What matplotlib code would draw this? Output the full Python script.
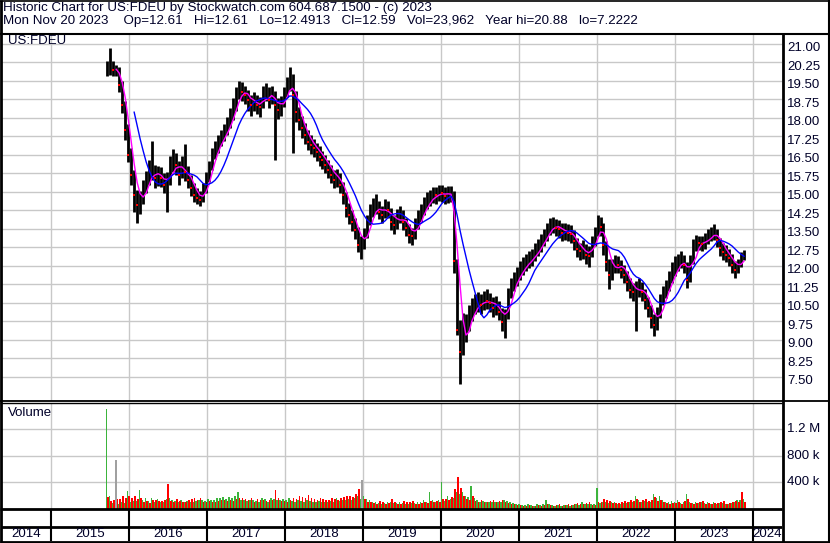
import matplotlib
matplotlib.use('Agg')
import matplotlib.pyplot as plt
import matplotlib.dates as mdates
from matplotlib.lines import Line2D
import pandas as pd
import datetime as dt

plt.rcParams['font.family'] = ['Liberation Sans', 'DejaVu Sans']

# ---------------- data (bi-weekly samples) ----------------
dates = pd.date_range('2015-09-21', periods=214, freq='14D')

close = [19.95, 20.05, 19.95, 19.95, 19.34, 18.53, 17.51, 16.50, 15.69, 14.88,
         14.47, 14.68, 15.16, 15.49, 15.81, 15.89, 15.57, 15.69, 15.57, 15.28,
         15.49, 15.97, 16.30, 16.10, 15.69, 15.97, 15.81, 15.49, 15.16, 14.88,
         14.76, 14.68, 15.00, 15.49, 15.97, 16.50, 16.78, 16.99, 17.19, 17.43,
         17.72, 18.00, 18.41, 18.85, 19.22, 19.05, 18.93, 18.73, 18.53, 18.73,
         18.53, 18.45, 18.93, 19.05, 18.73, 18.93, 18.53, 18.32, 18.53, 18.93,
         19.34, 19.62, 18.93, 18.24, 17.92, 17.60, 17.31, 17.03, 16.91, 16.78,
         16.62, 16.42, 16.30, 16.10, 15.89, 15.69, 15.49, 15.57, 15.28, 14.88,
         14.35, 14.07, 13.78, 13.46, 12.85, 12.85, 13.26, 13.78, 14.19, 14.35,
         14.47, 14.19, 14.07, 14.35, 14.27, 13.78, 13.66, 13.95, 14.07, 13.78,
         13.54, 13.26, 13.22, 13.66, 13.95, 14.19, 14.47, 14.68, 14.76, 14.88,
         14.86, 15.00, 14.96, 14.84, 14.90, 14.95, 12.20, 9.40, 8.50, 9.30,
         9.60, 9.89, 10.30, 10.42, 10.54, 10.42, 10.62, 10.60, 10.50, 10.30,
         10.42, 10.14, 9.73, 9.89, 10.83, 11.15, 11.40, 11.60, 11.85, 12.00,
         12.15, 12.25, 12.35, 12.60, 12.75, 12.95, 13.20, 13.40, 13.62, 13.70,
         13.55, 13.50, 13.35, 13.40, 13.35, 13.30, 13.00, 12.70, 12.60, 12.70,
         12.45, 12.40, 12.90, 13.30, 13.70, 13.60, 12.85, 12.16, 11.64, 11.92,
         12.12, 12.04, 11.84, 11.64, 11.35, 11.03, 10.95, 11.03, 11.11, 10.95,
         10.62, 10.30, 9.89, 9.61, 10.01, 10.54, 10.83, 11.11, 11.43, 11.76,
         12.00, 12.16, 12.24, 12.04, 11.43, 12.16, 12.85, 12.97, 12.93, 12.89,
         13.05, 13.22, 13.30, 13.38, 13.05, 12.73, 12.57, 12.45, 12.33, 12.04,
         11.84, 12.04, 12.33, 12.59]

high = [20.30, 20.85, 20.30, 20.15, 20.05, 19.50, 18.70, 17.75, 16.80, 15.90,
        15.10, 15.05, 15.50, 15.85, 16.30, 17.05, 16.10, 16.05, 16.00, 15.75,
        15.80, 16.45, 16.75, 16.60, 16.25, 16.45, 16.95, 16.05, 15.70, 15.35,
        15.15, 15.05, 15.35, 15.80, 16.25, 16.80, 17.05, 17.30, 17.50, 17.75,
        18.05, 18.40, 18.80, 19.25, 19.50, 19.45, 19.30, 19.15, 18.95, 19.05,
        18.95, 18.85, 19.30, 19.40, 19.25, 19.30, 19.10, 18.80, 18.90, 19.25,
        19.65, 20.05, 19.80, 19.10, 18.45, 18.10, 17.80, 17.50, 17.30, 17.15,
        17.00, 16.85, 16.65, 16.50, 16.30, 16.10, 15.90, 15.95, 15.75, 15.40,
        15.00, 14.55, 14.25, 13.95, 13.60, 13.20, 13.55, 14.05, 14.50, 14.75,
        14.90, 14.65, 14.45, 14.70, 14.65, 14.35, 14.05, 14.30, 14.45, 14.25,
        13.95, 13.70, 13.55, 13.95, 14.25, 14.50, 14.80, 15.00, 15.10, 15.20,
        15.20, 15.30, 15.30, 15.20, 15.25, 15.25, 15.05, 12.30, 9.80, 10.10,
        10.05, 10.40, 10.70, 10.85, 10.95, 10.85, 11.00, 11.05, 10.90, 10.75,
        10.80, 10.60, 10.30, 10.25, 11.10, 11.50, 11.75, 11.95, 12.20, 12.35,
        12.50, 12.60, 12.70, 12.95, 13.10, 13.30, 13.50, 13.75, 13.95, 14.00,
        13.90, 13.85, 13.75, 13.75, 13.70, 13.65, 13.45, 13.15, 12.95, 13.05,
        12.90, 12.80, 13.20, 13.60, 14.05, 14.00, 13.75, 13.00, 12.30, 12.30,
        12.45, 12.40, 12.25, 12.05, 11.80, 11.50, 11.30, 11.40, 11.50, 11.35,
        11.05, 10.75, 10.40, 10.05, 10.35, 10.85, 11.20, 11.45, 11.80, 12.15,
        12.40, 12.50, 12.60, 12.45, 12.15, 12.45, 13.10, 13.25, 13.20, 13.20,
        13.35, 13.50, 13.60, 13.70, 13.50, 13.15, 12.95, 12.85, 12.70, 12.50,
        12.20, 12.30, 12.55, 12.65]

low = [19.70, 19.75, 19.70, 19.70, 19.05, 18.20, 17.10, 16.20, 15.30, 14.20,
       13.75, 14.10, 14.50, 14.95, 15.30, 15.50, 15.15, 15.25, 15.20, 14.95,
       14.20, 15.30, 15.80, 15.70, 15.30, 15.55, 15.45, 15.15, 14.85, 14.60,
       14.50, 14.45, 14.60, 14.95, 15.40, 15.90, 16.35, 16.60, 16.85, 17.05,
       17.30, 17.60, 17.90, 18.30, 18.75, 18.70, 18.55, 18.30, 18.10, 18.30,
       18.15, 18.05, 18.40, 18.70, 18.40, 18.55, 16.30, 17.95, 18.10, 18.45,
       18.85, 19.10, 16.60, 17.85, 17.50, 17.20, 16.95, 16.70, 16.55, 16.40,
       16.25, 16.05, 15.95, 15.75, 15.55, 15.35, 15.15, 15.20, 14.95, 14.50,
       14.00, 13.70, 13.40, 13.10, 12.55, 12.30, 12.70, 13.15, 13.65, 14.00,
       14.10, 13.90, 13.75, 13.95, 13.95, 13.45, 13.30, 13.50, 13.75, 13.45,
       13.20, 12.95, 12.85, 13.10, 13.50, 13.80, 14.05, 14.30, 14.45, 14.55,
       14.50, 14.65, 14.60, 14.50, 14.55, 14.60, 11.70, 9.20, 7.22, 8.40,
       8.90, 9.35, 9.75, 10.05, 10.15, 10.05, 10.20, 10.25, 10.15, 9.95,
       10.00, 9.80, 9.35, 9.10, 9.85, 10.70, 11.00, 11.20, 11.45, 11.65,
       11.80, 11.90, 12.00, 12.20, 12.40, 12.55, 12.80, 13.00, 13.25, 13.35,
       13.20, 13.15, 13.00, 13.05, 13.00, 12.95, 12.65, 12.35, 12.25, 12.30,
       12.10, 11.95, 12.35, 12.80, 13.20, 13.20, 12.45, 11.80, 11.05, 11.45,
       11.70, 11.70, 11.50, 11.30, 11.00, 10.70, 10.60, 9.35, 10.75, 10.60,
       10.25, 9.95, 9.50, 9.15, 9.40, 9.90, 10.40, 10.70, 11.00, 11.30,
       11.60, 11.80, 11.90, 11.70, 11.10, 11.35, 12.10, 12.60, 12.65, 12.60,
       12.70, 12.90, 13.00, 13.05, 12.75, 12.40, 12.25, 12.15, 12.00, 11.70,
       11.50, 11.70, 11.95, 12.25]

# largest daily volume (thousands) on up days / down days in each sample window
vol_up_k = [1500, 200, 90, 120, 80, 110, 90, 270, 100, 120,
            120, 280, 140, 170, 120, 160, 110, 150, 100, 110,
            150, 160, 130, 120, 100, 140, 110, 120, 100, 110,
            120, 130, 130, 120, 150, 140, 130, 160, 170, 180,
            150, 180, 160, 200, 260, 140, 130, 120, 130, 130,
            120, 110, 160, 150, 110, 170, 150, 130, 140, 150,
            130, 160, 120, 110, 130, 120, 110, 130, 120, 110,
            110, 120, 110, 100, 110, 120, 110, 170, 120, 130,
            140, 150, 130, 160, 200, 150, 200, 150, 130, 110,
            100, 90, 80, 90, 100, 110, 90, 90, 100, 90,
            80, 80, 90, 90, 100, 110, 130, 110, 260, 140,
            110, 130, 400, 120, 200, 150, 160, 250, 220, 250,
            200, 180, 350, 160, 140, 110, 120, 100, 110, 100,
            110, 100, 110, 130, 120, 100, 90, 80, 70, 60,
            60, 70, 60, 50, 70, 60, 80, 140, 70, 60,
            50, 60, 50, 60, 55, 50, 60, 70, 60, 110,
            70, 80, 80, 70, 320, 90, 110, 100, 90, 100,
            110, 80, 80, 90, 90, 100, 100, 200, 140, 110,
            120, 100, 110, 230, 160, 200, 130, 110, 100, 120,
            110, 130, 90, 100, 230, 100, 90, 110, 90, 100,
            90, 100, 80, 110, 80, 90, 90, 70, 80, 90,
            100, 140, 130, 150]
vol_dn_k = [180, 120, 130, 150, 150, 200, 170, 190, 160, 190,
            150, 160, 100, 120, 90, 130, 130, 120, 120, 140,
            370, 120, 110, 150, 120, 110, 100, 130, 150, 170,
            140, 160, 110, 100, 120, 110, 100, 120, 130, 140,
            120, 130, 120, 150, 160, 170, 150, 140, 160, 110,
            150, 140, 130, 120, 130, 140, 290, 160, 120, 120,
            110, 130, 170, 150, 200, 180, 160, 215, 170, 150,
            140, 160, 150, 130, 140, 160, 150, 140, 160, 180,
            190, 200, 180, 220, 300, 200, 150, 110, 100, 90,
            80, 120, 110, 70, 90, 150, 110, 70, 80, 120,
            110, 100, 120, 70, 80, 90, 100, 90, 120, 100,
            120, 100, 150, 150, 140, 180, 300, 480, 320, 200,
            150, 130, 200, 120, 110, 130, 100, 110, 120, 130,
            100, 120, 140, 110, 90, 80, 70, 60, 55, 50,
            50, 55, 50, 45, 55, 50, 60, 70, 60, 50,
            60, 70, 45, 55, 70, 60, 80, 90, 70, 80,
            90, 100, 60, 60, 110, 110, 150, 130, 120, 90,
            90, 90, 100, 120, 110, 130, 120, 150, 110, 130,
            150, 120, 140, 180, 120, 130, 100, 90, 80, 90,
            90, 100, 80, 120, 150, 90, 80, 90, 100, 120,
            80, 90, 70, 90, 90, 100, 120, 80, 90, 110,
            120, 110, 250, 100]
# unchanged-close days with notable volume
flat_dates = ['2015-11-01', '2018-12-27']
flat_vol_k = [740, 430]

price_ticks = [21.00, 20.25, 19.50, 18.75, 18.00, 17.25, 16.50, 15.75, 15.00,
               14.25, 13.50, 12.75, 12.00, 11.25, 10.50, 9.75, 9.00, 8.25, 7.50]
vol_ticks = [400e3, 800e3, 1.2e6]
vol_tick_labels = ['400 k', '800 k', '1.2 M']
years = list(range(2014, 2025))

title_line1 = "Historic Chart for US:FDEU by Stockwatch.com 604.687.1500 - (c) 2023"
title_line2 = ("Mon Nov 20 2023    Op=12.61   Hi=12.61   Lo=12.4913   Cl=12.59   "
               "Vol=23,962   Year hi=20.88   lo=7.2222")
symbol = "US:FDEU"

# ---------------- layout helpers ----------------
W, H = 830, 543
fig = plt.figure(figsize=(W / 100, H / 100), dpi=100)
fig.patch.set_facecolor('white')


def rect(x0, y0, x1, y1):
    return [x0 / W, 1 - y1 / H, (x1 - x0) / W, (y1 - y0) / H]


def fline(x0, y0, x1, y1, lw=1.5, color='black'):
    fig.add_artist(Line2D([x0 / W, x1 / W], [1 - y0 / H, 1 - y1 / H],
                          transform=fig.transFigure, color=color, lw=lw,
                          solid_capstyle='butt'))


TXT = '#000028'
GRID = '#c8c8c8'
xmin = mdates.date2num(dt.datetime(2014, 5, 16))
xmax = mdates.date2num(dt.datetime(2024, 5, 16))
year_x = [mdates.date2num(dt.datetime(y, 1, 1)) for y in years[1:]]
xd = mdates.date2num(dates.to_pydatetime())

c = pd.Series(close)
ma_fast = c.rolling(4).mean()
ma_slow = c.rolling(10).mean()

# ---------------- price panel ----------------
axp = fig.add_axes(rect(2, 34, 782, 401))
axp.set_xlim(xmin, xmax)
axp.set_ylim(6.527, 21.405)
axp.set_xticks(year_x)
axp.set_yticks(price_ticks)
axp.grid(True, color=GRID, lw=1.0)
axp.set_axisbelow(True)
axp.tick_params(length=0, labelbottom=False, labelleft=False)
for s in axp.spines.values():
    s.set_visible(False)

axp.vlines(xd, low, high, color='black', lw=2.0)
axp.plot(xd, ma_fast, color='#ff00ff', lw=1.0, zorder=5)
axp.plot(xd, ma_slow, color='#0000ff', lw=1.0, zorder=6)
down = [i for i in range(1, len(close)) if close[i] < close[i - 1]]
axp.scatter([xd[i] for i in down], [close[i] for i in down], marker='s',
            s=3.5, color='red', lw=0, zorder=7)

for v in price_ticks:
    axp.annotate(f'{v:.2f}', xy=(1, v), xycoords=('axes fraction', 'data'),
                 xytext=(3.6, -3.0), textcoords='offset points', va='center',
                 ha='left', fontsize=9.5, color=TXT, annotation_clip=False)

# ---------------- volume panel ----------------
axv = fig.add_axes(rect(2, 403, 782, 509))
axv.set_xlim(xmin, xmax)
axv.set_ylim(0, 1.59e6)
axv.set_xticks(year_x)
axv.set_yticks(vol_ticks)
axv.grid(True, color=GRID, lw=1.0)
axv.set_axisbelow(True)
axv.tick_params(length=0, labelbottom=False, labelleft=False)
for s in axv.spines.values():
    s.set_visible(False)

axv.bar(xd - 3.6, [v * 1000 for v in vol_up_k], width=7.2, color='#3cb43c',
        lw=0)
axv.bar(xd + 3.6, [v * 1000 for v in vol_dn_k], width=7.2, color='#ff0000',
        lw=0)
fx = mdates.date2num(pd.to_datetime(flat_dates).to_pydatetime())
axv.bar(fx, [v * 1000 for v in flat_vol_k], width=9, color='#a0a0a0', lw=0,
        zorder=3)
for v, lab in zip(vol_ticks, vol_tick_labels):
    axv.annotate(lab, xy=(1, v), xycoords=('axes fraction', 'data'),
                 xytext=(3.6, 0), textcoords='offset points', va='center',
                 ha='left', fontsize=9.5, color=TXT, annotation_clip=False)

# ---------------- date band ----------------
axd = fig.add_axes(rect(2, 509, 782, 541))
axd.set_xlim(xmin, xmax)
axd.set_ylim(0, 1)
axd.axis('off')
axd.vlines(year_x, 0, 1, color='black', lw=1.5)
axd.axhline((541 - 527) / 32, color='black', lw=2.0)
edges = [xmin] + year_x + [xmax]
for y, a, b in zip(years, edges[:-1], edges[1:]):
    axd.text((a + b) / 2, (541 - 534) / 32, str(y), ha='center', va='center',
             fontsize=9.5, color=TXT)

# ---------------- texts ----------------
fig.text(3 / W, 1 - 8 / H, title_line1, ha='left', va='center', fontsize=9.6,
         color=TXT)
fig.text(3 / W, 1 - 21 / H, title_line2, ha='left', va='center', fontsize=9.6,
         color=TXT)
fig.text(8 / W, 1 - 41 / H, symbol, ha='left', va='center', fontsize=9.5,
         color=TXT)
fig.text(8 / W, 1 - 413 / H, 'Volume', ha='left', va='center', fontsize=9.5,
         color=TXT)

# ---------------- frame lines ----------------
fline(0, 0.7, W, 0.7, lw=1.2)
fline(1, 0, 1, H, lw=2.0)
fline(828.5, 0, 828.5, H, lw=1.5)
fline(0, 541.5, W, 541.5, lw=2.0)
fline(0, 33.5, W, 33.5, lw=1.5)
fline(782.5, 33, 782.5, 542, lw=2.0)
fline(0, 400.8, W, 400.8, lw=1.3)
fline(0, 403.3, 782, 403.3, lw=1.0)
fline(0, 509.3, 782, 509.3, lw=2.0)

fig.savefig('out.png', dpi=100)
